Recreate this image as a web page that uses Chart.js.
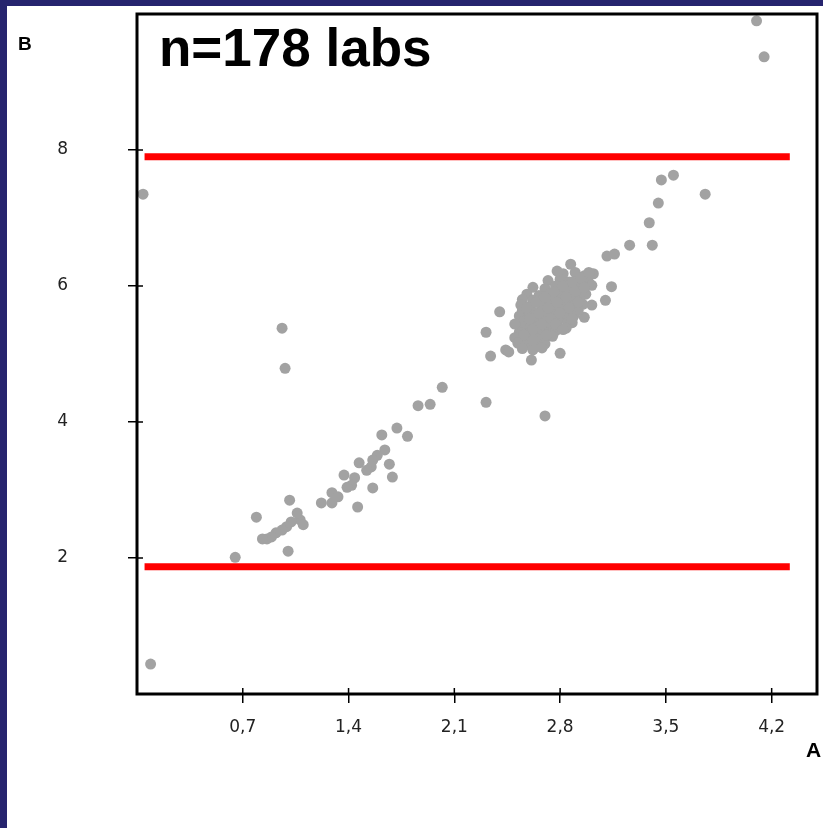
<!DOCTYPE html>
<html>
<head>
<meta charset="utf-8">
<script src="https://cdn.jsdelivr.net/npm/chart.js@4.4.1/dist/chart.umd.min.js"></script>
<style>
  body { margin: 0; }
  #page { position: absolute; left: 0; top: 0; width: 823px; height: 828px; background: #26246e; }
  #sheet { position: absolute; left: 7px; top: 6px; width: 816px; height: 822px; background: #ffffff; }
</style>
</head>
<body>
<div id="page"><div id="sheet"><canvas id="myChart" width="816" height="822"></canvas></div></div>
<script>
// tick labels
const xTicks = [0.7, 1.4, 2.1, 2.8, 3.5, 4.2];
const yTicks = [2, 4, 6, 8];

// limits (red lines)
const limitX = [0.05, 4.32];
const upperLimit = 7.9;
const lowerLimit = 1.87;

// labs outside the main cluster: A values, B values
const spreadA = [
  4.10, 4.15, 0.04, 0.09, 0.96, 0.98,
  3.76, 3.55, 3.47, 3.45, 3.39, 3.41, 3.26, 3.11, 3.16, 2.87, 3.14, 3.10,
  2.02, 2.31, 2.70, 2.31, 2.34, 2.40, 2.44, 2.61, 2.80, 3.01, 2.96, 2.88, 2.46,
  1.86, 1.94, 1.72, 1.62, 1.79, 1.64, 1.59, 1.56, 1.47, 1.67, 1.69, 1.55, 1.52,
  1.37, 1.44, 1.42, 1.39, 1.56, 1.29, 1.33, 1.22, 1.29, 1.46, 1.01, 0.79, 1.08,
  1.10, 1.06, 1.02, 0.99, 0.96, 0.92, 0.89, 0.86, 0.83, 1.00, 0.65
];
const spreadB = [
  9.90, 9.37, 7.35, 0.44, 5.38, 4.79,
  7.35, 7.63, 7.56, 7.22, 6.93, 6.60, 6.60, 6.44, 6.47, 6.32, 5.99, 5.79,
  4.51, 4.29, 4.09, 5.32, 4.97, 5.62, 5.06, 4.91, 5.01, 5.72, 5.54, 5.46, 5.03,
  4.24, 4.26, 3.91, 3.81, 3.79, 3.59, 3.51, 3.44, 3.40, 3.38, 3.19, 3.34, 3.29,
  3.22, 3.18, 3.07, 3.04, 3.03, 2.96, 2.90, 2.81, 2.81, 2.75, 2.85, 2.60, 2.56,
  2.49, 2.66, 2.53, 2.46, 2.41, 2.37, 2.31, 2.28, 2.28, 2.10, 2.01
];

// labs in the dense cluster around A=2.8, B=5.6
const clusterA = [
  2.82, 2.90, 2.96, 3.02,
  2.72, 2.80, 2.86, 2.93, 2.99,
  2.62, 2.70, 2.77, 2.83, 2.89, 2.95, 3.01,
  2.58, 2.66, 2.73, 2.79, 2.85, 2.91, 2.97,
  2.55, 2.62, 2.69, 2.75, 2.81, 2.87, 2.93,
  2.54, 2.60, 2.67, 2.73, 2.78, 2.84, 2.90, 2.95,
  2.55, 2.62, 2.68, 2.74, 2.80, 2.86, 2.92,
  2.53, 2.59, 2.65, 2.71, 2.77, 2.83, 2.89,
  2.56, 2.62, 2.68, 2.74, 2.79, 2.85,
  2.54, 2.60, 2.66, 2.72, 2.78, 2.84,
  2.53, 2.59, 2.65, 2.71, 2.77,
  2.50, 2.57, 2.63, 2.69, 2.75,
  2.52, 2.58, 2.64, 2.70,
  2.55, 2.62, 2.68,
  2.58, 2.64, 2.70, 2.76, 2.82, 2.88, 2.94,
  2.60, 2.66, 2.72, 2.78, 2.84, 2.90, 2.96,
  2.62, 2.68, 2.74, 2.80, 2.86, 2.92,
  2.56, 2.62, 2.71, 2.77, 2.82, 2.88,
  2.99, 2.78, 2.50
];
const clusterB = [
  6.18, 6.20, 6.15, 6.18,
  6.08, 6.10, 6.06, 6.09, 6.05,
  5.98, 5.96, 6.00, 5.97, 5.99, 5.96, 6.01,
  5.88, 5.86, 5.89, 5.87, 5.90, 5.86, 5.88,
  5.80, 5.79, 5.81, 5.78, 5.80, 5.82, 5.79,
  5.72, 5.70, 5.73, 5.71, 5.74, 5.70, 5.72, 5.73,
  5.64, 5.62, 5.65, 5.63, 5.66, 5.62, 5.64,
  5.56, 5.54, 5.57, 5.55, 5.58, 5.54, 5.56,
  5.48, 5.46, 5.49, 5.47, 5.50, 5.46,
  5.40, 5.38, 5.41, 5.39, 5.42, 5.38,
  5.32, 5.30, 5.33, 5.31, 5.34,
  5.24, 5.22, 5.25, 5.23, 5.26,
  5.16, 5.14, 5.17, 5.15,
  5.08, 5.06, 5.09,
  5.68, 5.76, 5.84, 5.92, 6.00, 6.06, 6.12,
  5.52, 5.60, 5.68, 5.76, 5.84, 5.92, 5.98,
  5.36, 5.44, 5.52, 5.60, 5.68, 5.76,
  5.28, 5.20, 5.28, 5.44, 5.36, 5.52,
  6.20, 6.22, 5.44
];

const labsA = spreadA.concat(clusterA);
const labsB = spreadB.concat(clusterB);
const labPoints = labsA.map((a, i) => ({ x: a, y: labsB[i] }));

const tickFont = { family: "'DejaVu Sans', sans-serif", size: 17 };

// box frame, inner tick stubs and the texts
const framePlugin = {
  id: "frame",
  afterDatasetsDraw(chart) {
    const { ctx, chartArea: a, scales } = chart;
    ctx.save();
    ctx.strokeStyle = "#000";
    ctx.lineWidth = 1.5;
    ctx.beginPath();
    scales.x.ticks.forEach((t) => {
      const px = scales.x.getPixelForValue(t.value);
      ctx.moveTo(px, a.bottom);
      ctx.lineTo(px, a.bottom - 6);
    });
    scales.y.ticks.forEach((t) => {
      const py = scales.y.getPixelForValue(t.value);
      ctx.moveTo(a.left, py);
      ctx.lineTo(a.left + 6, py);
    });
    ctx.stroke();
    ctx.lineWidth = 3;
    ctx.strokeRect(a.left, a.top, a.right - a.left, a.bottom - a.top);

    ctx.fillStyle = "#000";
    ctx.textBaseline = "alphabetic";
    ctx.textAlign = "left";
    ctx.font = "bold 53px 'Liberation Sans', Arial, sans-serif";
    ctx.fillText("n=178 labs", 152, 60);
    ctx.font = "bold 19px 'Liberation Sans', Arial, sans-serif";
    ctx.fillText("B", 11, 44);
    ctx.font = "bold 21px 'Liberation Sans', Arial, sans-serif";
    ctx.fillText("A", 799, 751);
    ctx.restore();
  },
};

const ctx = document.getElementById("myChart");

new Chart(ctx, {
  type: "scatter",
  data: {
    datasets: [
      {
        label: "labs",
        data: labPoints,
        backgroundColor: "#a2a2a2",
        borderWidth: 0,
        pointRadius: 5.5,
        order: 2,
      },
      {
        type: "line",
        label: "upper",
        data: [{ x: limitX[0], y: upperLimit }, { x: limitX[1], y: upperLimit }],
        borderColor: "#ff0000",
        borderWidth: 7,
        pointRadius: 0,
        order: 1,
      },
      {
        type: "line",
        label: "lower",
        data: [{ x: limitX[0], y: lowerLimit }, { x: limitX[1], y: lowerLimit }],
        borderColor: "#ff0000",
        borderWidth: 7,
        pointRadius: 0,
        order: 1,
      },
    ],
  },
  options: {
    responsive: false,
    animation: false,
    devicePixelRatio: 1,
    layout: { padding: { left: 0, right: 6, top: 8, bottom: 0 } },
    plugins: { legend: { display: false }, tooltip: { enabled: false } },
    scales: {
      x: {
        type: "linear",
        min: 0,
        max: 4.5,
        afterBuildTicks: (s) => { s.ticks = xTicks.map((v) => ({ value: v })); },
        afterFit: (s) => {
          s.height = 134;
          s.paddingLeft = 0;
          s.paddingRight = 0;
        },
        ticks: {
          autoSkip: false,
          maxRotation: 0,
          padding: 14,
          color: "#222",
          font: tickFont,
          callback: (v) => v.toFixed(1).replace(".", ","),
        },
        grid: { drawOnChartArea: false, tickLength: 9, color: "#000", lineWidth: 1.5 },
        border: { display: false },
      },
      y: {
        type: "linear",
        min: 0,
        max: 10,
        afterBuildTicks: (s) => { s.ticks = yTicks.map((v) => ({ value: v })); },
        afterFit: (s) => {
          s.width = 130;
          s.paddingTop = 0;
          s.paddingBottom = 0;
        },
        ticks: { padding: 60, color: "#222", font: tickFont },
        grid: { drawOnChartArea: false, tickLength: 9, color: "#000", lineWidth: 1.5 },
        border: { display: false },
      },
    },
  },
  plugins: [framePlugin],
});
</script>
</body>
</html>
